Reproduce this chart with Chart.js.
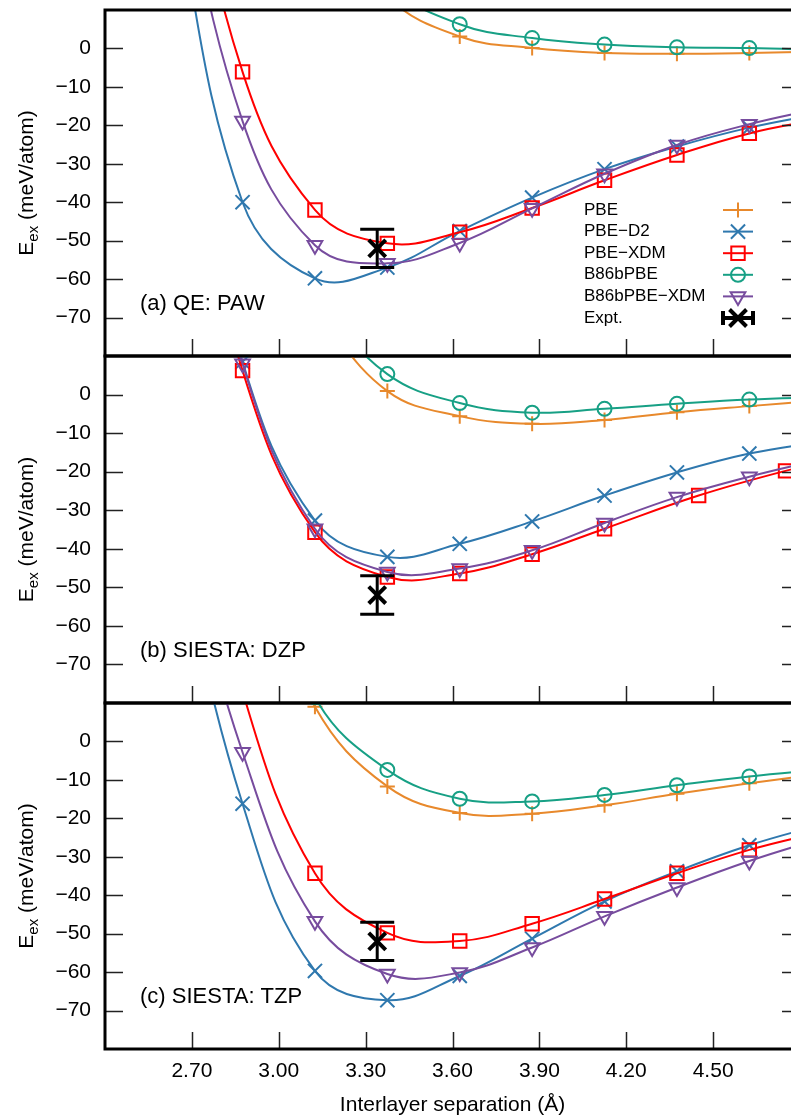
<!DOCTYPE html>
<html>
<head>
<meta charset="utf-8">
<script src="https://cdn.jsdelivr.net/npm/chart.js@4/dist/chart.umd.min.js"></script>
<style>
  html, body { margin: 0; padding: 0; background: #fff; overflow: hidden; width: 791px; height: 1120px; }
  canvas { position: absolute; left: 0; }
</style>
</head>
<body>
<canvas id="panelA" width="800" height="366" style="top:0px"></canvas>
<canvas id="panelB" width="800" height="367" style="top:346px"></canvas>
<canvas id="panelC" width="800" height="427" style="top:693px"></canvas>
<script>
// Interlayer separations (Å); first/last entries sit outside the visible range
const sep = [2.625, 2.875, 3.125, 3.375, 3.625, 3.875, 4.125, 4.375, 4.625, 4.875];

// (a) QE: PAW  (meV/atom)
const qePBE    = [null, null, 40, 13.5, 3.1, 0.1, -1.2, -1.4, -1.2, -0.8];
const qeD2     = [45, -40, -59.8, -57, -47.5, -38.8, -31.4, -25.5, -20.6, -16.9];
const qeXDM    = [75, -6.1, -42, -50.7, -47.8, -41.5, -34.3, -27.7, -22.1, -18.3];
const qeB86    = [null, null, 45, 17, 6.3, 2.7, 1.0, 0.3, 0.1, -0.4];
const qeB86XDM = [60, -18.9, -51.2, -55.9, -50.6, -41.6, -32.6, -25.1, -19.7, -15.5];

// (b) SIESTA: DZP
const dzpPBE    = [null, null, 22, 0.9, -5.6, -7.6, -6.6, -4.6, -3.0, -1.5];
const dzpD2     = [90, 8.5, -32.7, -42.1, -38.7, -32.9, -26.2, -20.2, -15.3, -12.2];
const dzpB86    = [null, null, 25, 5.3, -2.2, -4.7, -3.7, -2.4, -1.3, -0.7];
const dzpB86XDM = [88, 8, -34.8, -46, -45.1, -40.4, -33.3, -26.6, -21.3, -16.8];
// PBE-XDM (DZP) was sampled on a slightly different grid at large separation
const sepDzpXDM = [2.625, 2.875, 3.125, 3.375, 3.625, 3.875, 4.125, 4.45, 4.75, 5.05];
const dzpXDM    = [85, 6.2, -35.7, -47.3, -46.4, -41.4, -34.8, -26.2, -19.8, -14.5];

// (c) SIESTA: TZP
const tzpPBE    = [null, 55, 9, -11.7, -18.6, -18.8, -16.6, -13.6, -10.9, -8.4];
const tzpD2     = [60, -16.2, -59.7, -67.3, -61, -51.3, -41.6, -33.8, -27, -21.6];
const tzpXDM    = [90, 13, -34.3, -49.8, -51.9, -47.4, -41, -34.3, -28.2, -23.5];
const tzpB86    = [null, 60, 11.5, -7.4, -14.9, -15.6, -13.9, -11.4, -9.1, -7.3];
const tzpB86XDM = [65, -2.8, -46.8, -60.5, -60.1, -53.6, -45.5, -38, -31.1, -25.2];

// Experiment
const exptSep = 3.34;
const exptE = -52;
const exptErr = 5;

// Axis ticks
const xTicks = [2.70, 3.00, 3.30, 3.60, 3.90, 4.20, 4.50];
const yTicks = [-70, -60, -50, -40, -30, -20, -10, 0];

const FONT = "'Liberation Sans', Arial, Helvetica, sans-serif";
Chart.defaults.font.family = FONT;
Chart.defaults.color = '#000';

const styles = [
  { label: 'PBE',               color: '#e8892c', pointStyle: 'cross',    radius: 7.5, rotation: 0 },
  { label: 'PBE\u2212D2',       color: '#2f78ae', pointStyle: 'crossRot', radius: 10,  rotation: 0 },
  { label: 'PBE\u2212XDM',      color: '#ff0000', pointStyle: 'rect',     radius: 9.5, rotation: 0 },
  { label: 'B86bPBE',           color: '#17a085', pointStyle: 'circle',   radius: 7,   rotation: 0 },
  { label: 'B86bPBE\u2212XDM',  color: '#774c9e', pointStyle: 'triangle', radius: 8.5, rotation: 180 }
];

function toPoints(xs, ys) {
  return xs.map((x, i) => ({ x: x, y: ys[i] })).filter(p => p.y !== null);
}

function buildDatasets(series) {
  const sets = [
    {
      label: 'Expt. error',
      data: [{ x: exptSep, y: exptE - exptErr }, { x: exptSep, y: exptE + exptErr }],
      borderColor: '#000', borderWidth: 3, tension: 0,
      pointStyle: 'line', pointRadius: 17, pointBorderWidth: 3, pointBorderColor: '#000'
    },
    {
      label: 'Expt.',
      data: [{ x: exptSep, y: exptE }],
      showLine: false,
      pointStyle: 'crossRot', pointRadius: 12, pointBorderWidth: 4, pointBorderColor: '#000'
    }
  ];
  // stacking order of the curves
  [4, 2, 1, 3, 0].forEach(i => {
    const st = styles[i];
    const s = series[i];
    sets.push({
      label: st.label,
      data: toPoints(s.x, s.y),
      borderColor: st.color,
      borderWidth: 2,
      pointStyle: st.pointStyle,
      pointRadius: st.radius,
      pointRotation: st.rotation,
      pointBorderWidth: 2,
      pointBorderColor: st.color,
      pointBackgroundColor: 'rgba(0,0,0,0)'
    });
  });
  return sets;
}

const panelFrame = {
  id: 'panelFrame',
  afterDraw(chart, args, opts) {
    const ctx = chart.ctx;
    const a = chart.chartArea;
    const xs = chart.scales.x, ys = chart.scales.y;
    ctx.save();

    // ticks (inward): y on both sides, x on bottom edge
    ctx.strokeStyle = '#222';
    ctx.lineWidth = 1.5;
    ctx.beginPath();
    yTicks.forEach(v => {
      const py = Math.round(ys.getPixelForValue(v)) + 0.5;
      ctx.moveTo(a.left, py); ctx.lineTo(a.left + 18, py);
      ctx.moveTo(a.right, py); ctx.lineTo(a.right - 18, py);
    });
    xTicks.forEach(v => {
      const px = Math.round(xs.getPixelForValue(v)) + 0.5;
      ctx.moveTo(px, a.bottom); ctx.lineTo(px, a.bottom - 17);
    });
    ctx.stroke();

    // frame
    ctx.strokeStyle = '#000';
    ctx.lineWidth = 3;
    ctx.strokeRect(a.left, a.top, a.right - a.left, a.bottom - a.top);

    // y title with subscript
    const cy = (a.top + a.bottom) / 2;
    ctx.translate(33, cy);
    ctx.rotate(-Math.PI / 2);
    ctx.fillStyle = '#000';
    ctx.textBaseline = 'alphabetic';
    ctx.textAlign = 'left';
    const big = '21px ' + FONT, small = '15px ' + FONT;
    ctx.font = big; const wE = ctx.measureText('E').width;
    ctx.font = small; const wSub = ctx.measureText('ex').width;
    ctx.font = big; const wRest = ctx.measureText(' (meV/atom)').width;
    let x0 = -(wE + wSub + wRest) / 2;
    ctx.font = big; ctx.fillText('E', x0, 0);
    ctx.font = small; ctx.fillText('ex', x0 + wE, 5);
    ctx.font = big; ctx.fillText(' (meV/atom)', x0 + wE + wSub, 0);
    ctx.setTransform(1, 0, 0, 1, 0, 0);

    // panel label
    ctx.font = '22px ' + FONT;
    ctx.textBaseline = 'middle';
    ctx.fillText(opts.label, 140, a.bottom - 52);

    if (opts.legend) {
      ctx.font = '17px ' + FONT;
      const rows = styles.map(s => s.label).concat(['Expt.']);
      rows.forEach((txt, i) => {
        const y = 210 + i * 21.6;
        ctx.fillStyle = '#000';
        ctx.textAlign = 'left';
        ctx.textBaseline = 'middle';
        ctx.fillText(txt, 584, y);
        if (i < styles.length) {
          const st = styles[i];
          ctx.strokeStyle = st.color;
          ctx.lineWidth = 2;
          ctx.beginPath(); ctx.moveTo(723, y); ctx.lineTo(753, y); ctx.stroke();
          ctx.fillStyle = 'rgba(0,0,0,0)';
          Chart.helpers.drawPoint(ctx, { pointStyle: st.pointStyle, radius: st.radius, rotation: st.rotation, borderWidth: 2 }, 738, y);
        } else {
          ctx.strokeStyle = '#000';
          ctx.lineWidth = 4;
          ctx.beginPath();
          ctx.moveTo(723, y); ctx.lineTo(753, y);
          ctx.moveTo(723, y - 7); ctx.lineTo(723, y + 7);
          ctx.moveTo(753, y - 7); ctx.lineTo(753, y + 7);
          ctx.stroke();
          Chart.helpers.drawPoint(ctx, { pointStyle: 'crossRot', radius: 12, rotation: 0, borderWidth: 4 }, 738, y);
        }
      });
    }
    ctx.restore();
  }
};

function noPad(s) {
  s.paddingTop = 0; s.paddingBottom = 0; s.paddingLeft = 0; s.paddingRight = 0;
}

function panelChart(id, series, frameOpts, bottom) {
  return new Chart(document.getElementById(id), {
    type: 'line',
    data: { datasets: buildDatasets(series) },
    options: {
      responsive: false,
      animation: false,
      events: [],
      layout: { autoPadding: false, padding: { top: 10, bottom: bottom ? 0 : 10, left: 0, right: 0 } },
      elements: { line: { tension: 0.4, capBezierPoints: false } },
      plugins: { legend: { display: false }, tooltip: { enabled: false }, panelFrame: frameOpts },
      scales: {
        x: {
          type: 'linear', min: 2.4, max: 4.8,
          display: bottom,
          afterBuildTicks: s => { s.ticks = xTicks.map(v => ({ value: v })); },
          afterFit: s => { s.height = bottom ? 71 : 0; noPad(s); },
          grid: { display: false, drawTicks: false },
          border: { display: false },
          ticks: { padding: 10, maxRotation: 0, autoSkip: false, font: { size: 21 }, color: '#000',
                   callback: v => Number(v).toFixed(2) },
          title: { display: true, text: 'Interlayer separation (\u00c5)', font: { size: 21 }, color: '#000',
                   padding: { top: 0, bottom: 2 } }
        },
        y: {
          min: -80, max: 10,
          afterBuildTicks: s => { s.ticks = yTicks.map(v => ({ value: v })); },
          afterFit: s => { s.width = 105; noPad(s); },
          grid: { display: false, drawTicks: false },
          border: { display: false },
          ticks: { padding: 14, font: { size: 21 }, color: '#000',
                   callback: v => (v < 0 ? '\u2212' + Math.abs(v) : String(v)) }
        }
      }
    },
    plugins: [panelFrame]
  });
}

panelChart('panelA', [
  { x: sep, y: qePBE }, { x: sep, y: qeD2 }, { x: sep, y: qeXDM }, { x: sep, y: qeB86 }, { x: sep, y: qeB86XDM }
], { label: '(a) QE: PAW', legend: true }, false);

panelChart('panelB', [
  { x: sep, y: dzpPBE }, { x: sep, y: dzpD2 }, { x: sepDzpXDM, y: dzpXDM }, { x: sep, y: dzpB86 }, { x: sep, y: dzpB86XDM }
], { label: '(b) SIESTA: DZP', legend: false }, false);

panelChart('panelC', [
  { x: sep, y: tzpPBE }, { x: sep, y: tzpD2 }, { x: sep, y: tzpXDM }, { x: sep, y: tzpB86 }, { x: sep, y: tzpB86XDM }
], { label: '(c) SIESTA: TZP', legend: false }, true);
</script>
</body>
</html>
